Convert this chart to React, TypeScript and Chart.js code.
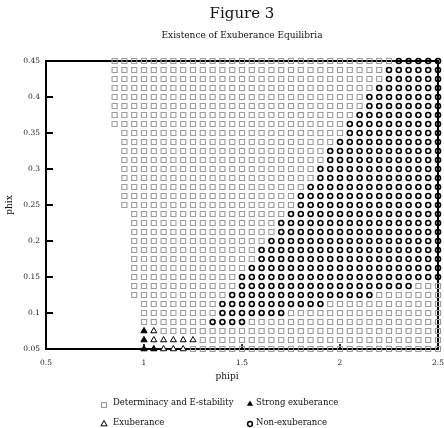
import React, { useEffect, useRef } from 'react';
import { Chart, registerables } from 'chart.js';

Chart.register(...registerables);

const FONT = '"DejaVu Serif", "Liberation Serif", serif';

const titleText = 'Figure 3';
const subtitleText = 'Existence of Exuberance Equilibria';
const xTitle = 'phipi';
const yTitle = 'phix';

const xTicks = [0.5, 1, 1.5, 2, 2.5];
const yTicks = [0.05, 0.1, 0.15, 0.2, 0.25, 0.3, 0.35, 0.4, 0.45];

// grid of phipi values (columns)
const phipiGrid = [0.85, 0.9, 0.95, 1.0, 1.05, 1.1, 1.15, 1.2, 1.25, 1.3, 1.35, 1.4, 1.45, 1.5, 1.55, 1.6, 1.65, 1.7, 1.75, 1.8, 1.85, 1.9, 1.95, 2.0, 2.05, 2.1, 2.15, 2.2, 2.25, 2.3, 2.35, 2.4, 2.45, 2.5];
// grid of phix values (rows, top to bottom)
const phixRows = [0.45, 0.4375, 0.425, 0.4125, 0.4, 0.3875, 0.375, 0.3625, 0.35, 0.3375, 0.325, 0.3125, 0.3, 0.2875, 0.275, 0.2625, 0.25, 0.2375, 0.225, 0.2125, 0.2, 0.1875, 0.175, 0.1625, 0.15, 0.1375, 0.125, 0.1125, 0.1, 0.0875, 0.075, 0.0625, 0.05];
// first phipi of the determinate / E-stable region in each row
const rowStart = [0.85, 0.85, 0.85, 0.85, 0.85, 0.85, 0.85, 0.85, 0.9, 0.9, 0.9, 0.9, 0.9, 0.9, 0.9, 0.9, 0.9, 0.95, 0.95, 0.95, 0.95, 0.95, 0.95, 0.95, 0.95, 0.95, 0.95, 1.0, 1.0, 1.0, 1.0, 1.0, 1.0];
// non-exuberance range in each row
const nonExStart = [2.3, 2.25, 2.25, 2.2, 2.15, 2.15, 2.1, 2.05, 2.05, 2.0, 1.95, 1.95, 1.9, 1.9, 1.85, 1.8, 1.8, 1.75, 1.7, 1.7, 1.65, 1.6, 1.6, 1.55, 1.5, 1.5, 1.45, 1.4, 1.4, 1.35, null, null, null];
const nonExEnd = [2.5, 2.5, 2.5, 2.5, 2.5, 2.5, 2.5, 2.5, 2.5, 2.5, 2.5, 2.5, 2.5, 2.5, 2.5, 2.5, 2.5, 2.5, 2.5, 2.5, 2.5, 2.5, 2.5, 2.5, 2.5, 2.35, 2.15, 1.9, 1.7, 1.5, null, null, null];

const strongPhipi = [1.0, 1.0, 1.0, 1.05];
const strongPhix = [0.075, 0.0625, 0.05, 0.05];
const exubPhipi = [1.05, 1.05, 1.1, 1.15, 1.2, 1.25, 1.1, 1.15, 1.2];
const exubPhix = [0.075, 0.0625, 0.0625, 0.0625, 0.0625, 0.0625, 0.05, 0.05, 0.05];

const labels = ['Determinacy and E-stability', 'Strong exuberance', 'Exuberance', 'Non-exuberance'];

const GRAY = '#9c9c9c';
const BLACK = '#000000';

const EPS = 1e-6;
const near = (a: number, b: number) => Math.abs(a - b) < EPS;

function buildPoints() {
  const det: { x: number; y: number }[] = [];
  const non: { x: number; y: number }[] = [];
  const strong = strongPhipi.map((x, i) => ({ x, y: strongPhix[i] }));
  const exub = exubPhipi.map((x, i) => ({ x, y: exubPhix[i] }));
  const tri = [...strong, ...exub];
  phixRows.forEach((y, r) => {
    phipiGrid.forEach((x) => {
      if (x < rowStart[r] - EPS) return;
      const cs = nonExStart[r];
      const ce = nonExEnd[r];
      if (cs != null && ce != null && x >= cs - EPS && x <= ce + EPS) {
        non.push({ x, y });
        return;
      }
      if (tri.some((p) => near(p.x, x) && near(p.y, y))) return;
      det.push({ x, y });
    });
  });
  return { det, non, strong, exub };
}

const fmt = (v: number) => String(Number(v.toFixed(4)));

function drawSymbol(ctx: CanvasRenderingContext2D, kind: number, x: number, y: number) {
  ctx.save();
  if (kind === 0) {
    ctx.strokeStyle = GRAY;
    ctx.lineWidth = 1.1;
    ctx.strokeRect(x - 2.5, y - 2.5, 5, 5);
  } else if (kind === 1 || kind === 2) {
    const R = 3.6;
    ctx.beginPath();
    ctx.moveTo(x, y - R);
    ctx.lineTo(x + R * 0.866, y + R * 0.5);
    ctx.lineTo(x - R * 0.866, y + R * 0.5);
    ctx.closePath();
    if (kind === 1) {
      ctx.fillStyle = BLACK;
      ctx.fill();
    } else {
      ctx.strokeStyle = BLACK;
      ctx.lineWidth = 1;
      ctx.stroke();
    }
  } else {
    ctx.beginPath();
    ctx.arc(x, y, 2.4, 0, Math.PI * 2);
    ctx.strokeStyle = BLACK;
    ctx.lineWidth = 1.5;
    ctx.stroke();
  }
  ctx.restore();
}

const decoPlugin = {
  id: 'deco',
  beforeDatasetsDraw(chart: any) {
    const { ctx, chartArea } = chart;
    const { left, right, top, bottom } = chartArea;
    const xs = chart.scales.x;
    const ys = chart.scales.y;
    ctx.save();
    ctx.strokeStyle = BLACK;
    ctx.lineWidth = 2;
    ctx.strokeRect(left, top, right - left, bottom - top);
    ctx.lineWidth = 2;
    yTicks.forEach((v) => {
      const py = ys.getPixelForValue(v);
      if (near(v, yTicks[0]) || near(v, yTicks[yTicks.length - 1])) return;
      ctx.beginPath();
      ctx.moveTo(left, py);
      ctx.lineTo(left + 7, py);
      ctx.stroke();
    });
    ctx.lineWidth = 1.6;
    xTicks.forEach((v, i) => {
      if (i === 0 || i === xTicks.length - 1) return;
      const px = xs.getPixelForValue(v);
      ctx.beginPath();
      ctx.moveTo(px, bottom);
      ctx.lineTo(px, bottom - 5);
      ctx.stroke();
    });
    ctx.restore();
  },
  afterDraw(chart: any) {
    const { ctx } = chart;
    ctx.save();
    ctx.fillStyle = '#111';
    ctx.font = `9px ${FONT}`;
    ctx.textAlign = 'center';
    ctx.textBaseline = 'middle';
    ctx.fillText(xTitle, 227, 377);

    ctx.font = `8.5px ${FONT}`;
    ctx.textAlign = 'left';
    const pos = [
      [104, 405, 113, 403],
      [250, 404, 256, 403],
      [104, 424, 113, 423],
      [250, 424, 256, 423],
    ];
    labels.forEach((t, i) => {
      const [sx, sy, tx, ty] = pos[i];
      drawSymbol(ctx, i, sx, sy);
      ctx.fillStyle = '#111';
      ctx.fillText(t, tx, ty);
    });
    ctx.restore();
  },
};

export default function App() {
  const ref = useRef<HTMLCanvasElement>(null);
  useEffect(() => {
    if (!ref.current) return;
    const { det, non, strong, exub } = buildPoints();
    const chart = new Chart(ref.current, {
      type: 'scatter',
      data: {
        datasets: [
          {
            label: labels[0],
            data: det,
            pointStyle: 'rect',
            pointRadius: 3.6,
            pointHoverRadius: 3.6,
            borderColor: GRAY,
            backgroundColor: 'rgba(0,0,0,0)',
            borderWidth: 1.1,
          },
          {
            label: labels[1],
            data: strong,
            pointStyle: 'triangle',
            pointRadius: 3.6,
            pointHoverRadius: 3.6,
            borderColor: BLACK,
            backgroundColor: BLACK,
            borderWidth: 1,
          },
          {
            label: labels[2],
            data: exub,
            pointStyle: 'triangle',
            pointRadius: 3.5,
            pointHoverRadius: 3.5,
            borderColor: BLACK,
            backgroundColor: '#ffffff',
            borderWidth: 1,
          },
          {
            label: labels[3],
            data: non,
            pointStyle: 'circle',
            pointRadius: 2.5,
            pointHoverRadius: 2.5,
            borderColor: BLACK,
            backgroundColor: 'rgba(0,0,0,0)',
            borderWidth: 1.6,
          },
        ],
      },
      options: {
        animation: false,
        responsive: false,
        devicePixelRatio: 1,
        events: [],
        clip: false as any,
        layout: { padding: { top: 0, left: 0, right: 6, bottom: 49 } },
        scales: {
          x: {
            type: 'linear',
            min: 0.5,
            max: 2.5,
            grid: { display: false, drawTicks: false },
            border: { display: false },
            afterBuildTicks: (s: any) => {
              s.ticks = xTicks.map((v) => ({ value: v }));
            },
            afterFit: (s: any) => {
              s.height = 30;
              s.paddingLeft = 0;
              s.paddingRight = 0;
            },
            ticks: {
              padding: 10,
              color: '#222',
              font: { family: FONT, size: 7.5 },
              maxRotation: 0,
              autoSkip: false,
              callback: (v: any) => fmt(Number(v)),
            },
          },
          y: {
            type: 'linear',
            min: 0.05,
            max: 0.45,
            grid: { display: false, drawTicks: false },
            border: { display: false },
            afterBuildTicks: (s: any) => {
              s.ticks = yTicks.map((v) => ({ value: v }));
            },
            afterFit: (s: any) => {
              s.width = 46;
              s.paddingTop = 0;
              s.paddingBottom = 0;
            },
            title: {
              display: true,
              text: yTitle,
              color: '#111',
              font: { family: FONT, size: 9 },
              padding: { top: 4.6, bottom: 0 },
            },
            ticks: {
              padding: 6,
              color: '#222',
              font: { family: FONT, size: 7.5 },
              autoSkip: false,
              callback: (v: any) => fmt(Number(v)),
            },
          },
        },
        plugins: {
          legend: { display: false },
          tooltip: { enabled: false },
          title: {
            display: true,
            text: titleText,
            fullSize: false,
            color: '#111',
            font: { family: FONT, size: 15, weight: 'normal' },
            padding: { top: 5, bottom: 2 },
          },
          subtitle: {
            display: true,
            text: subtitleText,
            fullSize: false,
            color: '#111',
            font: { family: FONT, size: 9, weight: 'normal' },
            padding: { top: 5.6, bottom: 19.6 },
          },
        },
      },
      plugins: [decoPlugin],
    });
    return () => chart.destroy();
  }, []);
  return (
    <div style={{ position: 'fixed', left: 0, top: 0, width: 444, height: 428, background: '#fff' }}>
      <canvas ref={ref} width={444} height={428} style={{ display: 'block', width: 444, height: 428 }} />
    </div>
  );
}
